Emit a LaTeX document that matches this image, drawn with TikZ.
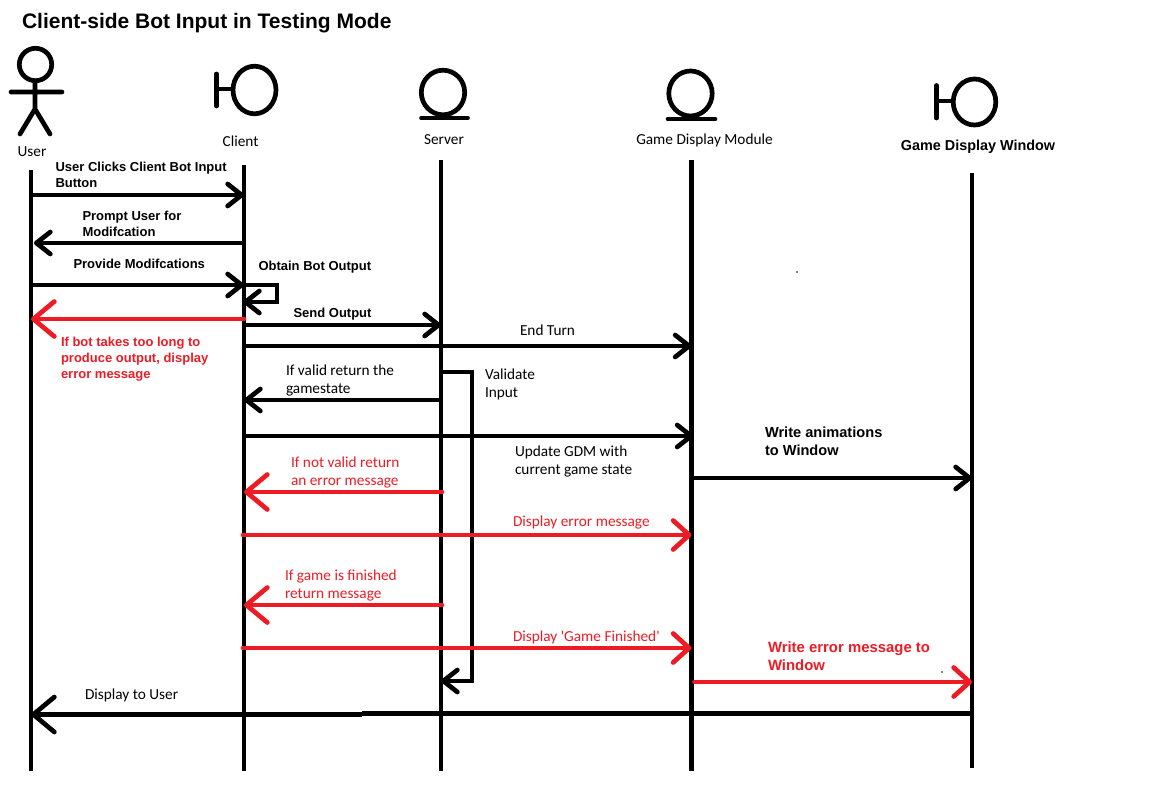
\documentclass[tikz,border=0pt]{standalone}
\usepackage{fontspec}
\setmainfont{Liberation Sans}
\newfontfamily\calfont{Carlito}
\usetikzlibrary{arrows.meta}
\definecolor{msred}{HTML}{ED1C24}
\tikzset{
  every node/.style={inner sep=0pt,outer sep=0pt},
  ink/.style={line width=4.7pt,line cap=round,line join=miter},
  life/.style={line width=4.7pt,line cap=butt},
  msg/.style={line width=4.7pt,line cap=butt,-{Straight Barb[length=14pt,width=22pt,line width=4.7pt,round]}},
  bigmsg/.style={line width=4.7pt,line cap=round,color=msred,-{Straight Barb[length=21pt,width=35pt,line width=4.7pt,round]}},
  redmsg/.style={line width=4.7pt,line cap=round,color=msred,-{Straight Barb[length=16pt,width=29pt,line width=4.7pt,round]}},
  lbl/.style={font=\calfont\fontsize{15.3}{18}\selectfont,align=left,anchor=north west,text=black},
  rlbl/.style={lbl,text=msred},
  blbl/.style={font=\bfseries\fontsize{13}{16}\selectfont,align=left,anchor=north west,text=black},
  rblbl/.style={blbl,text=msred},
  captext/.style={font=\calfont\fontsize{15.3}{18}\selectfont,anchor=center},
}
\begin{document}
\begin{tikzpicture}[x=1pt,y=-1pt]
\useasboundingbox (0,0) rectangle (1158,800);
\node[anchor=base west,font=\bfseries\fontsize{21}{24}\selectfont] (title) at (22,29) {Client-side Bot Input in Testing Mode};

% lifeline ends
\coordinate (u) at (31,170);  \coordinate (ub) at (31,771);
\coordinate (c) at (244,165); \coordinate (cb) at (244,771);
\coordinate (s) at (441,160); \coordinate (sb) at (441,771);
\coordinate (g) at (691.5,160); \coordinate (gb) at (691.5,771);
\coordinate (w) at (972,173); \coordinate (wb) at (972,768);
\foreach \a/\b in {u/ub,c/cb,s/sb,g/gb,w/wb} \draw[life] (\a) -- (\b);

% user actor
\draw[ink] (35.5,64.5) circle (16.2);
\draw[ink] (35,81) -- (35,109) (11,92) -- (62,92) (35,109) -- (20,134) (35,109) -- (50,134);
\node[captext] (nu) at (32,152) {User};
% client boundary
\draw[ink] (254.5,90) ellipse (21.5 and 23.8);
\draw[ink] (216.5,74) -- (216.5,106);
\draw[line width=4.7pt] (216.5,89) -- (232,89);
\node[captext] (nc) at (240.5,141.5) {Client};
% server entity
\draw[ink] (443,92.5) ellipse (21.7 and 22.3);
\draw[ink] (421.5,118) -- (467.5,118);
\node[captext] (ns) at (444,140) {Server};
% GDM entity
\draw[ink] (690.5,93.5) ellipse (21.7 and 22.5);
\draw[ink] (668,119) -- (715,119);
\node[captext] (ng) at (704.5,140.5) {Game Display Module};
% GDW boundary
\draw[ink] (974.5,102) ellipse (21.3 and 23);
\draw[ink] (936.5,85.5) -- (936.5,118);
\draw[line width=4.7pt] (936.5,101) -- (952,101);
\node[anchor=center,font=\bfseries\fontsize{14.4}{16}\selectfont] (nw) at (978,146.5) {Game Display Window};

% message rows
\foreach \n/\y in {a/195,b/243,d/285,e/319,f/325,h/346,i/400,j/436,k/478,l/492,m/535,n/605,o/648,p/682,q/372,r/681,t/302}
  \coordinate (\n) at (0,\y);

\draw[msg] (u |- a) -- (c |- a);
\draw[msg] (c |- b) -- ([xshift=3pt]u |- b);
\draw[msg] (u |- d) -- (c |- d);
\draw[line width=4.7pt,line join=miter,-{Straight Barb[length=14pt,width=22pt,line width=4.7pt,round]}]
  (c |- d) -- ++(33,0) |- ([xshift=-1pt]c |- t);
\draw[msg] (c |- f) -- (s |- f);
\draw[msg] (c |- h) -- (g |- h);
\draw[line width=4.7pt,line join=miter,-{Straight Barb[length=14pt,width=22pt,line width=4.7pt,round]}]
  (s |- q) -- ++(31,0) |- (s |- r);
\draw[msg] (s |- i) -- (c |- i);
\draw[msg] (c |- j) -- ([xshift=2pt]g |- j);
\draw[msg] (g |- k) -- (w |- k);
\draw[bigmsg] (c |- e) -- (u |- e);
\draw[bigmsg] ([xshift=1pt]s |- l) -- (c |- l);
\draw[redmsg] ([xshift=-1pt]c |- m) -- (g |- m);
\draw[bigmsg] ([xshift=1pt]s |- n) -- (c |- n);
\draw[redmsg] ([xshift=-1pt]c |- o) -- (g |- o);
\draw[redmsg] ([xshift=3pt]g |- p) -- (w |- p);
\coordinate (st) at (362,713.5);
\coordinate (sl) at (362,714.5);
\draw[life] (w |- st) -- (st);
\draw[line width=4.7pt,line cap=butt,-{Straight Barb[length=21pt,width=35pt,line width=4.7pt,round]}] (sl) -- (u |- sl);

% labels
\node[blbl] (t1) at (55.5,162.5) {User Clicks Client Bot Input\\Button};
\node[blbl] (t2) at (82.5,211.5) {Prompt User for\\Modifcation};
\node[blbl] (t3) at (73.5,259.5) {Provide Modifcations};
\node[blbl] (t4) at (258.5,261.5) {Obtain Bot Output};
\node[blbl] (t5) at (293.5,308.5) {Send Output};
\node[rblbl] (t6) at (61,337.5) {If bot takes too long to\\produce output, display\\error message};
\node[lbl] (t7) at (520,324.5) {End Turn};
\node[lbl] (t8) at (286,365) {If valid return the\\gamestate};
\node[lbl] (t9) at (485,368.5) {Validate\\Input};
\node[lbl] (t10) at (515,445.5) {Update GDM with\\current game state};
\node[blbl,font=\bfseries\fontsize{14.6}{18}\selectfont] (t11) at (765,427) {Write animations\\to Window};
\node[rlbl] (t12) at (291,456.5) {If not valid return\\an error message};
\node[rlbl] (t13) at (513,515.5) {Display error message};
\node[rlbl] (t14) at (285,569.5) {If game is finished\\return message};
\node[rlbl] (t15) at (513,630.5) {Display 'Game Finished'};
\node[rblbl,font=\bfseries\fontsize{14.9}{18}\selectfont] (t16) at (768,641.5) {Write error message to\\Window};
\node[lbl] (t17) at (85,688.5) {Display to User};

% stray specks
\fill (797,272) circle (0.8);
\fill (942,672) circle (0.8);
\end{tikzpicture}
\end{document}
